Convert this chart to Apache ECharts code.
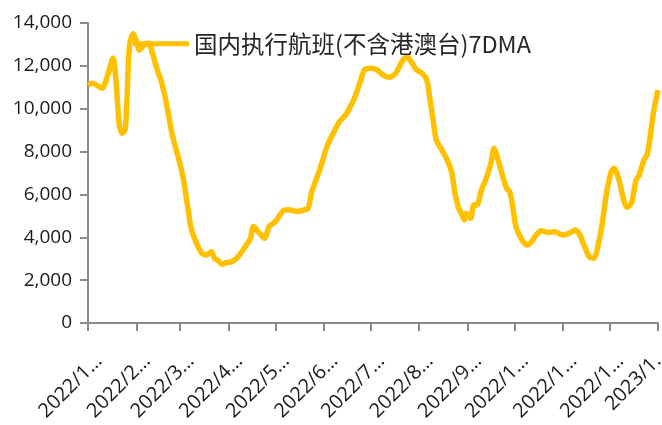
<!DOCTYPE html>
<html>
<head>
<meta charset="utf-8">
<script src="https://cdn.jsdelivr.net/npm/echarts@6/dist/echarts.min.js"></script>
<style>
  html, body { margin: 0; padding: 0; background: #fff; }
  #chartId { width: 662px; height: 425px; }
</style>
</head>
<body>
<div id="chartId"></div>
<script>
// 国内执行航班(不含港澳台)7DMA，按日期读取的点
const pointDates = [
  '2022-01-01', '2022-01-04', '2022-01-10', '2022-01-13', '2022-01-17', '2022-01-19',
  '2022-01-21', '2022-01-23', '2022-01-25', '2022-01-27', '2022-01-28', '2022-01-30',
  '2022-02-01', '2022-02-03', '2022-02-06', '2022-02-09', '2022-02-11', '2022-02-14',
  '2022-02-17', '2022-02-20', '2022-02-24', '2022-02-28', '2022-03-03', '2022-03-06',
  '2022-03-08', '2022-03-12', '2022-03-15', '2022-03-18', '2022-03-21', '2022-03-23',
  '2022-03-25', '2022-03-28', '2022-03-31', '2022-04-03', '2022-04-07', '2022-04-11',
  '2022-04-15', '2022-04-17', '2022-04-20', '2022-04-24', '2022-04-27', '2022-05-01',
  '2022-05-07', '2022-05-11', '2022-05-15', '2022-05-19', '2022-05-22', '2022-05-24',
  '2022-05-27', '2022-05-30', '2022-06-03', '2022-06-07', '2022-06-11', '2022-06-15',
  '2022-06-18', '2022-06-21', '2022-06-24', '2022-06-27', '2022-07-01', '2022-07-05',
  '2022-07-09', '2022-07-13', '2022-07-17', '2022-07-21', '2022-07-24', '2022-07-27',
  '2022-07-30', '2022-08-03', '2022-08-06', '2022-08-08', '2022-08-10', '2022-08-12',
  '2022-08-15', '2022-08-19', '2022-08-22', '2022-08-24', '2022-08-26', '2022-08-28',
  '2022-08-30', '2022-08-31', '2022-09-03', '2022-09-05', '2022-09-07', '2022-09-10',
  '2022-09-13', '2022-09-16', '2022-09-18', '2022-09-20', '2022-09-23', '2022-09-26',
  '2022-09-28', '2022-09-30', '2022-10-02', '2022-10-06', '2022-10-09', '2022-10-12',
  '2022-10-15', '2022-10-18', '2022-10-23', '2022-10-27', '2022-10-30', '2022-11-02',
  '2022-11-06', '2022-11-09', '2022-11-12', '2022-11-15', '2022-11-18', '2022-11-21',
  '2022-11-23', '2022-11-26', '2022-11-29', '2022-12-02', '2022-12-04', '2022-12-07',
  '2022-12-10', '2022-12-12', '2022-12-15', '2022-12-18', '2022-12-20', '2022-12-23',
  '2022-12-25', '2022-12-27', '2022-12-29', '2023-01-01'
]
const flightValues = [
  11100, 11190, 10950, 11420, 12350, 11260,
  9240, 8850, 9100, 12350, 13130, 13500,
  13130, 12740, 12970, 13050, 12660, 11890,
  11260, 10330, 8770, 7690, 6760, 5350,
  4420, 3640, 3250, 3170, 3330, 3020,
  2940, 2740, 2830, 2860, 3090, 3490,
  3950, 4500, 4260, 3950, 4500, 4730,
  5270, 5270, 5200, 5270, 5350, 6050,
  6670, 7290, 8230, 8850, 9390, 9710,
  10090, 10560, 11190, 11810, 11890, 11810,
  11570, 11470, 11650, 12190, 12430, 12190,
  11840, 11650, 11340, 10410, 9470, 8540,
  8150, 7610, 6990, 6050, 5430, 5120,
  4810, 5120, 4890, 5510, 5510, 6210,
  6750, 7450, 8150, 7760, 6990, 6290,
  6130, 5430, 4500, 3870, 3640, 3790,
  4110, 4310, 4220, 4260, 4150, 4110,
  4220, 4340, 4110, 3560, 3090, 3020,
  3410, 4500, 6050, 7060, 7220, 6670,
  5740, 5400, 5590, 6670, 6910, 7610,
  7840, 8690, 9790, 10870
]
const seriesName = '国内执行航班(不含港澳台)7DMA'
const yTicks = [0, 2000, 4000, 6000, 8000, 10000, 12000, 14000]

// 日期类目：2022-01-01 到 2023-01-01，每天一个
const getDays = () => {
  const days = []
  const d = new Date(Date.UTC(2022, 0, 1))
  const end = Date.UTC(2023, 0, 1)
  while (d.getTime() <= end) {
    days.push(d.toISOString().slice(0, 10))
    d.setUTCDate(d.getUTCDate() + 1)
  }
  return days
}
const categories = getDays()
const lastIndex = categories.length - 1

const seriesData = pointDates.map((day, i) => [categories.indexOf(day), flightValues[i]])

const axisColor = '#8a8a8a'
const textColor = '#1a1a1a'

const myChart = echarts.init(document.getElementById('chartId'))
const option = {
  animation: false,
  legend: {
    data: [seriesName],
    left: 128,
    top: 27,
    icon: 'rect',
    itemWidth: 56,
    itemHeight: 5,
    textStyle: {
      fontFamily: 'Noto Sans CJK SC',
      fontSize: 23.5,
      color: '#262626',
    },
  },
  grid: {
    left: 88,
    right: 4,
    top: 23,
    bottom: 102,
    outerBoundsMode: 'none',
  },
  xAxis: {
    type: 'category',
    boundaryGap: false,
    data: categories,
    axisLine: { lineStyle: { color: axisColor, width: 2 } },
    axisTick: {
      length: 8,
      lineStyle: { color: axisColor, width: 2 },
      interval: (index, value) => value.slice(8) === '01',
    },
    axisLabel: {
      rotate: 45,
      margin: 35,
      fontFamily: 'Open Sans',
      fontSize: 20,
      color: textColor,
      interval: (index, value) => value.slice(8) === '08' || index === lastIndex,
      formatter: (value, index) => {
        if (index === lastIndex) return '2023/1.'
        return value.slice(0, 4) + '/' + String(+value.slice(5, 7)).charAt(0) + '…'
      },
    },
    splitLine: { show: false },
  },
  yAxis: {
    type: 'value',
    min: yTicks[0],
    max: yTicks[yTicks.length - 1],
    interval: yTicks[1] - yTicks[0],
    axisLine: { show: true, lineStyle: { color: axisColor, width: 2 } },
    axisTick: { show: true, length: 8, lineStyle: { color: axisColor, width: 2 } },
    axisLabel: {
      margin: 16,
      fontFamily: 'Open Sans',
      fontSize: 19,
      color: textColor,
      formatter: (v) => v.toLocaleString('en-US'),
    },
    splitLine: { show: false },
  },
  series: [
    {
      name: seriesName,
      type: 'line',
      data: seriesData,
      smooth: 0.25,
      symbol: 'none',
      lineStyle: { color: '#FFC000', width: 5.5 },
      itemStyle: { color: '#FFC000' },
      z: 3,
    },
  ],
}
option && myChart.setOption(option)
</script>
</body>
</html>
